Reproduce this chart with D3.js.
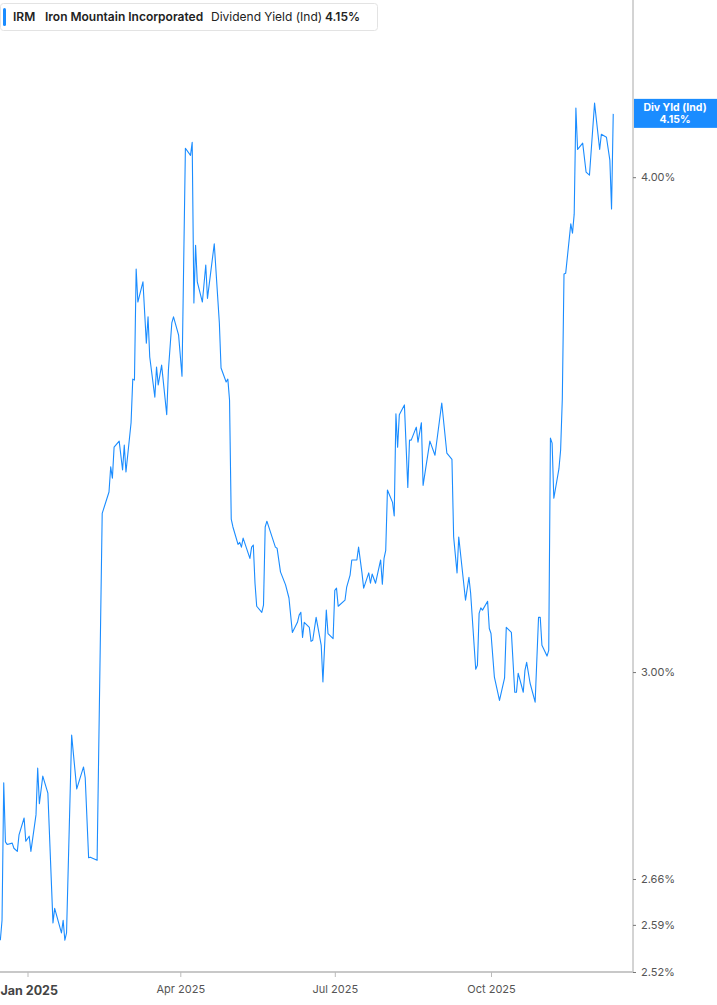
<!DOCTYPE html>
<html>
<head>
<meta charset="utf-8">
<script src="https://cdn.jsdelivr.net/npm/d3@7"></script>
<style>
  body { margin: 0; background: #fff; }
  svg { display: block; font-family: Inter, "Noto Sans", sans-serif; }
</style>
</head>
<body>
<svg width="717" height="1005"></svg>
<script>
var width = 717, height = 1005

// trading dates where the line turns (straight runs in between)
var dates = [
  '2024-12-16','2024-12-17','2024-12-18','2024-12-19','2024-12-20','2024-12-23','2024-12-24','2024-12-26','2024-12-27','2024-12-30','2024-12-31',
  '2025-01-02','2025-01-03','2025-01-06','2025-01-07','2025-01-08','2025-01-10','2025-01-13','2025-01-16','2025-01-17','2025-01-21','2025-01-22','2025-01-23','2025-01-24','2025-01-27','2025-01-30',
  '2025-02-03','2025-02-04','2025-02-06','2025-02-07','2025-02-11','2025-02-14','2025-02-18','2025-02-19','2025-02-20','2025-02-21','2025-02-24','2025-02-26','2025-02-27','2025-02-28',
  '2025-03-03','2025-03-04','2025-03-05','2025-03-06','2025-03-07','2025-03-10','2025-03-12','2025-03-13','2025-03-14','2025-03-17','2025-03-18','2025-03-19','2025-03-21','2025-03-24','2025-03-25','2025-03-27','2025-03-28','2025-03-31',
  '2025-04-02','2025-04-04','2025-04-07','2025-04-08','2025-04-09','2025-04-10','2025-04-11','2025-04-14','2025-04-16','2025-04-17','2025-04-21','2025-04-24','2025-04-25','2025-04-28','2025-04-29','2025-04-30',
  '2025-05-01','2025-05-02','2025-05-05','2025-05-06','2025-05-07','2025-05-08','2025-05-12','2025-05-13','2025-05-14','2025-05-15','2025-05-16','2025-05-19','2025-05-20','2025-05-21','2025-05-22','2025-05-27','2025-05-28','2025-05-30',
  '2025-06-02','2025-06-04','2025-06-06','2025-06-09','2025-06-10','2025-06-11','2025-06-12','2025-06-13','2025-06-16','2025-06-17','2025-06-18','2025-06-20','2025-06-23','2025-06-24','2025-06-26','2025-06-27','2025-06-30',
  '2025-07-01','2025-07-02','2025-07-03','2025-07-07','2025-07-08','2025-07-10','2025-07-11','2025-07-14','2025-07-15','2025-07-17','2025-07-18','2025-07-21','2025-07-22','2025-07-23','2025-07-25','2025-07-28','2025-07-29','2025-07-30','2025-07-31',
  '2025-08-01','2025-08-04','2025-08-05','2025-08-06','2025-08-07','2025-08-08','2025-08-11','2025-08-13','2025-08-14','2025-08-15','2025-08-18','2025-08-19','2025-08-21','2025-08-22','2025-08-26','2025-08-29',
  '2025-09-02','2025-09-05','2025-09-08','2025-09-09','2025-09-11','2025-09-12','2025-09-16','2025-09-18','2025-09-19','2025-09-22','2025-09-23','2025-09-24','2025-09-25','2025-09-26','2025-09-29','2025-09-30',
  '2025-10-01','2025-10-03','2025-10-06','2025-10-09','2025-10-10','2025-10-13','2025-10-15','2025-10-16','2025-10-17','2025-10-20','2025-10-21','2025-10-22','2025-10-24','2025-10-27','2025-10-29','2025-10-30','2025-10-31',
  '2025-11-03','2025-11-04','2025-11-05','2025-11-06','2025-11-07','2025-11-10','2025-11-11','2025-11-12','2025-11-13','2025-11-14','2025-11-17','2025-11-18','2025-11-19','2025-11-20','2025-11-21','2025-11-24','2025-11-26','2025-11-28',
  '2025-12-01','2025-12-04','2025-12-05','2025-12-08','2025-12-10','2025-12-11','2025-12-12'
]

// dividend yield (ind), %
var yields = [
  2.567,2.597,2.813,2.718,2.714,2.716,2.708,2.703,2.729,2.756,2.719,
  2.727,2.703,2.761,2.837,2.779,2.824,2.796,2.593,2.615,2.578,2.597,2.567,2.578,2.892,2.803,
  2.839,2.821,2.693,2.694,2.689,3.290,3.331,3.380,3.358,3.419,3.431,3.374,3.423,3.370,
  3.468,3.557,3.555,3.792,3.720,3.764,3.632,3.688,3.603,3.520,3.582,3.545,3.586,3.484,3.576,3.675,3.688,3.649,
  3.563,4.068,4.051,4.082,3.718,3.845,3.764,3.720,3.801,3.728,3.848,3.675,3.580,3.551,3.557,3.514,
  3.279,3.264,3.231,3.235,3.226,3.243,3.205,3.226,3.230,3.159,3.117,3.106,3.119,3.264,3.275,3.226,3.224,3.180,
  3.156,3.132,3.070,3.088,3.101,3.106,3.061,3.088,3.079,3.054,3.056,3.097,3.047,2.983,3.110,3.068,3.059,
  3.146,3.150,3.117,3.128,3.152,3.174,3.202,3.202,3.226,3.178,3.150,3.178,3.159,3.176,3.159,3.202,3.157,3.205,3.220,
  3.335,3.311,3.285,3.486,3.419,3.484,3.504,3.340,3.433,3.433,3.459,3.429,3.468,3.344,3.431,3.403,
  3.508,3.407,3.395,3.245,3.178,3.245,3.128,3.170,3.141,3.005,3.012,3.104,3.114,3.110,3.126,3.077,
  3.068,2.991,2.951,2.990,3.079,3.070,2.965,2.965,2.998,2.965,3.003,3.017,2.981,2.948,3.097,3.097,3.047,
  3.028,3.038,3.437,3.427,3.319,3.376,3.413,3.516,3.781,3.783,3.893,3.872,3.915,4.164,4.065,4.080,4.012,4.005,
  4.176,4.065,4.101,4.094,4.040,3.927,4.150
]

var yTicks = [2.52, 2.59, 2.66, 3.00, 4.00]
var xTicks = ['2025-01-01', '2025-04-01', '2025-07-01', '2025-10-01']
var xTickLabels = ['Jan 2025', 'Apr 2025', 'Jul 2025', 'Oct 2025']

var seriesName = 'IRM'
var companyName = 'Iron Mountain Incorporated'
var metricName = 'Dividend Yield (Ind)'
var lastLabel = 'Div Yld (Ind)'

var parse = d3.timeParse('%Y-%m-%d')
var data = dates.map(function(d, i) { return {date: parse(d), value: yields[i]} })

var plotRight = 633, plotBottom = 972
var blue = '#1a8cff'

var x = d3.scaleTime()
  .domain([parse('2025-01-01'), parse('2025-10-01')])
  .range([27.5, 491])

var y = d3.scaleLog()
  .domain([2.52, 4.434])
  .range([plotBottom, 0])

var svg = d3.select('svg')

// right axis line
svg.append('line')
  .attr('x1', plotRight).attr('x2', plotRight)
  .attr('y1', 0).attr('y2', plotBottom)
  .attr('stroke', '#a8a8a8').attr('stroke-width', 1)

// bottom axis
var xAxis = d3.axisBottom(x)
  .tickValues(xTicks.map(parse))
  .tickSize(5)
  .tickFormat(function(d, i) { return xTickLabels[i] })

var gx = svg.append('g')
  .attr('transform', 'translate(0,' + plotBottom + ')')
  .call(xAxis)
gx.select('.domain').remove()
gx.insert('line', ':first-child')
  .attr('x1', 0).attr('x2', plotRight)
  .attr('y1', 0).attr('y2', 0)
  .attr('stroke', '#c8c8c8').attr('stroke-width', 2)
gx.selectAll('.tick line').attr('stroke', '#bbb')
gx.selectAll('.tick text')
  .attr('y', 13)
  .attr('fill', '#555')
  .style('font-size', '11px')
  .style('font-family', 'Inter, sans-serif')
gx.selectAll('.tick text')
  .filter(function(d, i) { return i === 0 })
  .attr('fill', '#444')
  .style('font-weight', 'bold')
  .style('font-size', '12.5px')
  .attr('text-anchor', 'start')
  .attr('x', -27.5)
  .attr('y', 14)

// right axis ticks and labels
var yAxis = d3.axisRight(y)
  .tickValues(yTicks)
  .tickSize(3)
  .tickFormat(function(d) { return d3.format('.2f')(d) + '%' })

var gy = svg.append('g')
  .attr('transform', 'translate(' + plotRight + ',0)')
  .call(yAxis)
gy.select('.domain').remove()
gy.selectAll('.tick line').attr('stroke', '#777')
gy.selectAll('.tick text')
  .attr('x', 8)
  .attr('fill', '#555')
  .style('font-size', '11px')
  .style('font-family', 'Inter, sans-serif')

// the series
var line = d3.line()
  .x(function(d) { return x(d.date) })
  .y(function(d) { return y(d.value) })

svg.append('path')
  .datum(data)
  .attr('fill', 'none')
  .attr('stroke', blue)
  .attr('stroke-width', 1.1)
  .attr('stroke-linejoin', 'round')
  .attr('d', line)

// last value badge
var last = data[data.length - 1]
var ly = y(last.value)
svg.append('rect')
  .attr('x', plotRight + 1).attr('y', ly - 15)
  .attr('width', width - plotRight - 1).attr('height', 29)
  .attr('fill', blue)
svg.append('text')
  .attr('x', (plotRight + width) / 2).attr('y', ly - 3)
  .attr('text-anchor', 'middle')
  .attr('fill', '#fff')
  .style('font-size', '10.5px').style('font-weight', 'bold')
  .text(lastLabel)
svg.append('text')
  .attr('x', (plotRight + width) / 2).attr('y', ly + 9)
  .attr('text-anchor', 'middle')
  .attr('fill', '#fff')
  .style('font-size', '10.5px').style('font-weight', 'bold')
  .text(d3.format('.2f')(last.value) + '%')

// legend box
var lg = svg.append('g')
lg.append('rect')
  .attr('x', 0.5).attr('y', 3.5)
  .attr('width', 377).attr('height', 27)
  .attr('rx', 3)
  .attr('fill', '#fff')
  .attr('stroke', '#e3e3e3')
lg.append('rect')
  .attr('x', 3).attr('y', 8)
  .attr('width', 3).attr('height', 18)
  .attr('rx', 1.5)
  .attr('fill', blue)
var legendItems = [
  {text: seriesName, x: 13, weight: 600},
  {text: companyName, x: 45, weight: 600},
  {text: metricName, x: 211, weight: 400},
  {text: d3.format('.2f')(last.value) + '%', x: 325, weight: 600}
]
lg.selectAll('text.leg')
  .data(legendItems)
  .enter().append('text')
  .attr('class', 'leg')
  .attr('x', function(d) { return d.x })
  .attr('y', 21)
  .attr('fill', '#222')
  .style('font-size', '12px')
  .style('font-weight', function(d) { return d.weight })
  .text(function(d) { return d.text })
</script>
</body>
</html>
